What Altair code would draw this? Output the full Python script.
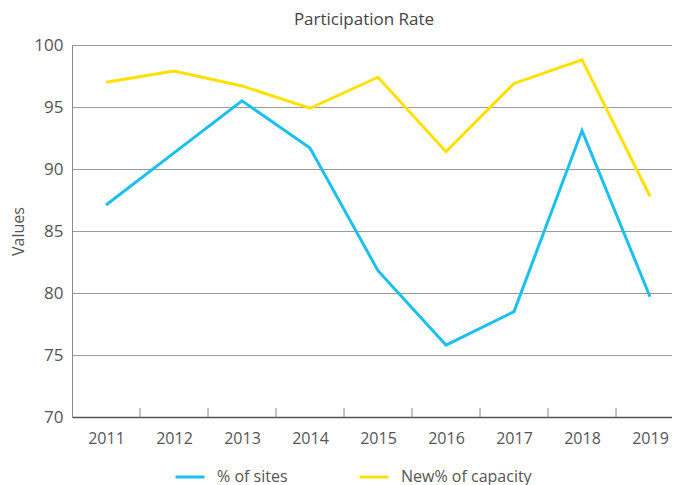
import altair as alt
import pandas as pd

years = [2011, 2012, 2013, 2014, 2015, 2016, 2017, 2018, 2019]
sites = [87.1, 91.3, 95.5, 91.7, 81.8, 75.8, 78.5, 93.1, 79.7]
capacity = [97.0, 97.9, 96.7, 94.9, 97.4, 91.4, 96.9, 98.8, 87.8]
series_names = ["% of sites", "New% of capacity"]
colors = ["#1DC0EC", "#FFE100"]
tick_bounds = [2011.5, 2012.5, 2013.5, 2014.5, 2015.5, 2016.5, 2017.5, 2018.5]

FONT = "Open Sans"
PLOT_W = 600
STEP = 68  # pixels per year in the reference

df = pd.DataFrame({
    "year": years * 2,
    "value": sites + capacity,
    "series": [series_names[0]] * len(years) + [series_names[1]] * len(years),
})

xscale = alt.Scale(domain=[2010.5, 2010.5 + PLOT_W / STEP], nice=False, zero=False)
yscale = alt.Scale(domain=[70, 100], nice=False, zero=False)

lines = alt.Chart(df).mark_line(strokeWidth=3, strokeCap="butt").encode(
    x=alt.X("year:Q", scale=xscale,
            axis=alt.Axis(values=years, format="d", title=None, ticks=False,
                          grid=False, domain=True, domainColor="#555555",
                          domainWidth=1.5, labelFontSize=16, labelColor="#555555",
                          labelFont=FONT, labelPadding=13)),
    y=alt.Y("value:Q", scale=yscale,
            axis=alt.Axis(values=[70, 75, 80, 85, 90, 95, 100], title="Values",
                          ticks=False, grid=True, gridColor="#999999",
                          gridWidth=1, domain=True, domainColor="#888888",
                          labelFontSize=17, labelColor="#555555", labelFont=FONT,
                          labelPadding=9, titleFont=FONT, titleFontSize=16,
                          titleFontWeight="normal", titleColor="#555555",
                          titlePadding=7)),
    color=alt.Color("series:N", scale=alt.Scale(domain=series_names, range=colors),
                    legend=alt.Legend(title=None, orient="none", direction="horizontal",
                                      legendX=102, legendY=416, symbolType="stroke",
                                      symbolSize=841, symbolStrokeWidth=3,
                                      labelFontSize=16, labelColor="#555555",
                                      labelFont=FONT, labelOffset=11,
                                      columnPadding=65)),
)

ticks_df = pd.DataFrame({"x": tick_bounds, "y": [70] * len(tick_bounds),
                         "y2": [70.73] * len(tick_bounds)})
ticks = alt.Chart(ticks_df).mark_rule(color="#888888", strokeWidth=1).encode(
    x=alt.X("x:Q", scale=xscale),
    y=alt.Y("y:Q", scale=yscale),
    y2="y2:Q",
)

chart = alt.layer(lines, ticks).properties(
    width=PLOT_W, height=372,
    title=alt.TitleParams("Participation Rate", font=FONT, fontSize=17,
                          fontWeight="normal", color="#444444", offset=7, dx=-8),
    autosize=alt.AutoSizeParams(type="none"),
    padding={"left": 64, "top": 37, "right": 0, "bottom": 68},
).configure_view(stroke=None)

chart.save("out.html", embed_options={"renderer": "svg", "actions": False})
